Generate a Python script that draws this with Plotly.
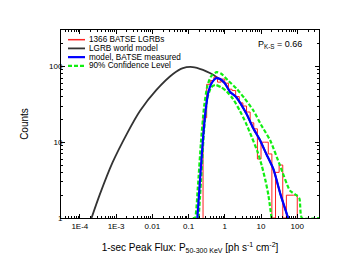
import numpy as np
import plotly.graph_objects as go

# ---------------- data ----------------
# red step histogram: log10 bin edges and counts
hist_log_edges = [-0.6, -0.5, -0.4, -0.3, -0.2, -0.1, 0.0, 0.1, 0.2, 0.3, 0.4, 0.5, 0.6,
                  0.7, 0.8, 0.9, 1.0, 1.1, 1.2, 1.3, 1.4, 1.5, 1.6, 1.7, 1.8, 1.9, 2.0]
hist_counts = [21, 58, 65, 72, 62, 68, 60, 50, 48, 40, 33, 30, 25,
               18, 15, 6, 10, 10, 7, 1, 4, 5, 1, 2, 2, 2]

# LGRB world model (black)
world_x = [2.1e-4, 3.5e-4, 8e-4, 2e-3, 4.6e-3, 0.013, 0.038, 0.07, 0.13, 0.25, 0.4, 0.6,
           1.0, 1.4, 2.0, 4.0, 6.0, 9.3, 14, 22, 35, 56]
world_y = [1, 2, 5.4, 13, 26, 49, 80, 95, 98, 90, 81, 72,
           60, 46, 40, 23.5, 15.5, 10.7, 7, 4.4, 2.0, 1]

# model, BATSE measured (blue)
meas_x = [0.175, 0.2, 0.25, 0.3, 0.36, 0.45, 0.58, 0.75, 1.0, 1.4, 2.0, 4.0, 6.0, 9.3, 14, 22, 35, 56]
meas_y = [1, 2.5, 11, 28, 48, 62, 70, 68, 60, 46, 40, 23.5, 15.5, 10.7, 7, 4.4, 2.0, 1]

# 90% confidence level (green dashed), upper and lower
up_x = [0.13, 0.15, 0.18, 0.22, 0.27, 0.33, 0.42, 0.6, 0.8, 1.2, 2.1, 3.5, 6.2, 10, 18, 33, 63, 95, 115, 135, 400]
up_y = [1, 1, 2.5, 10, 30, 55, 74, 84, 80, 66, 51, 38, 26, 17, 10.5, 5, 2.3, 2, 1.8, 1, 1]
lo_x = [0.19, 0.22, 0.27, 0.33, 0.42, 0.55, 0.8, 1.12, 1.7, 2.6, 3.8, 5.5, 8, 10.5, 13.5, 16, 19.5]
lo_y = [1, 3, 15, 38, 53, 57, 53, 47, 37, 26, 18, 11.8, 7.5, 4.9, 3, 2, 1]

x_tickvals = [1e-4, 1e-3, 1e-2, 0.1, 1, 10, 100]
x_ticktext = ["1E-4", "1E-3", "0.01", "0.1", "1", "10", "100"]
y_tickvals = [1, 10, 100]
y_ticktext = ["1", "10", "100"]

legend_names = ["1366 BATSE LGRBs", "LGRB world model", "model, BATSE measured", "90% Confidence Level"]

# ---------------- styles ----------------
RED = "#ff2020"
BLACK = "#333333"
BLUE = "#0000ff"
GREEN = "#11ee11"
FONT = "Liberation Sans, Arial, sans-serif"

edges = [10 ** e for e in hist_log_edges]
hx = [edges[0]] + edges[:-1] + [edges[-1]]
hy = [1] + hist_counts + [1]

fig = go.Figure()
fig.add_trace(go.Scatter(x=world_x, y=world_y, mode="lines", line=dict(color=BLACK, width=1.8, shape="spline", smoothing=0.6)))
fig.add_trace(go.Scatter(x=hx, y=hy, mode="lines", line=dict(color=RED, width=1, shape="hv")))
fig.add_trace(go.Scatter(x=up_x, y=up_y, mode="lines", line=dict(color=GREEN, width=2.2, dash="4px,2px", shape="spline", smoothing=0.6)))
fig.add_trace(go.Scatter(x=lo_x, y=lo_y, mode="lines", line=dict(color=GREEN, width=2.2, dash="4px,2px", shape="spline", smoothing=0.6)))
fig.add_trace(go.Scatter(x=meas_x, y=meas_y, mode="lines", line=dict(color=BLUE, width=2.2, shape="spline", smoothing=0.6)))

minor_x = [m * 10 ** d for d in range(-5, 3) for m in range(2, 10)]
minor_y = [m * 10 ** d for d in range(0, 3) for m in range(2, 10)]

fig.update_xaxes(type="log", range=[-4.52, 2.6], tickmode="array", tickvals=x_tickvals, ticktext=x_ticktext,
                 ticks="inside", ticklen=4, tickcolor="black", showline=True, linecolor="black", linewidth=1,
                 mirror="allticks", showgrid=False, zeroline=False,
                 minor=dict(tickmode="array", tickvals=minor_x, ticks="inside", ticklen=2, tickcolor="black", showgrid=False),
                 tickfont=dict(family=FONT, size=8, color="black"),
                 title=dict(text="1-sec Peak Flux: P<sub>50-300 KeV</sub> [ph s<sup>-1</sup> cm<sup>-2</sup>]",
                            font=dict(family=FONT, size=10, color="black"), standoff=14))
fig.update_yaxes(type="log", range=[0, 2.48], tickmode="array", tickvals=y_tickvals, ticktext=y_ticktext,
                 ticks="inside", ticklen=4, tickcolor="black", showline=True, linecolor="black", linewidth=1,
                 mirror="allticks", showgrid=False, zeroline=False, ticklabelstandoff=-4,
                 minor=dict(tickmode="array", tickvals=minor_y, ticks="inside", ticklen=2, tickcolor="black", showgrid=False),
                 tickfont=dict(family=FONT, size=8, color="black"),
                 title=dict(text="Counts", font=dict(family=FONT, size=10, color="black"), standoff=18))

# page has an 8px body margin, so the figure is 8px smaller than the window
W, H = 333, 256
L, R = 53, 311
T, B = 22, 216
def px2paper(x, y):
    # x, y in window pixels
    return (x - 8 - L) / (R - L), (B - (y - 8)) / (B - T)

legend_styles = [dict(color=RED, width=1.5), dict(color=BLACK, width=1.8),
                 dict(color=BLUE, width=2.2), dict(color=GREEN, width=2.2, dash="4px,2px")]
rows = [40, 49, 58, 67]
for name, st, ry in zip(legend_names, legend_styles, rows):
    x0, y0 = px2paper(68, ry)
    x1, _ = px2paper(85, ry)
    fig.add_shape(type="line", xref="paper", yref="paper", x0=x0, x1=x1, y0=y0, y1=y0, line=st)
    tx, _ = px2paper(86.5, ry)
    fig.add_annotation(xref="paper", yref="paper", x=tx, y=y0, text=name, showarrow=False,
                       xanchor="left", yanchor="middle", font=dict(family=FONT, size=8.2, color="black"))

ax, ay = px2paper(304, 45)
fig.add_annotation(xref="paper", yref="paper", x=ax, y=ay, text="P<sub>K-S</sub> = 0.66", showarrow=False,
                   xanchor="right", yanchor="middle", font=dict(family=FONT, size=9, color="black"))

fig.update_layout(width=W, height=H, margin=dict(l=L, r=W - R, t=T, b=H - B),
                  paper_bgcolor="white", plot_bgcolor="white", showlegend=False)

fig.write_html("out.html")
